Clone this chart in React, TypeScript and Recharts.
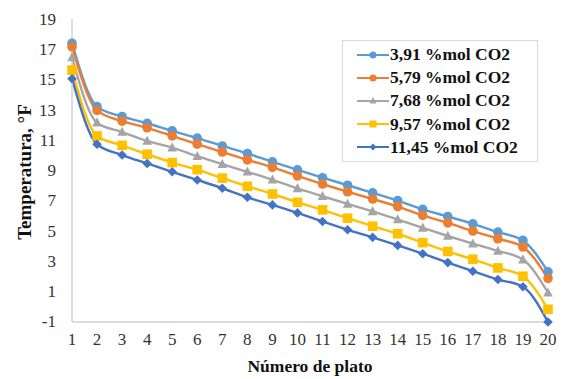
import { LineChart, Line, XAxis, YAxis } from 'recharts';

const platos = [1, 2, 3, 4, 5, 6, 7, 8, 9, 10, 11, 12, 13, 14, 15, 16, 17, 18, 19, 20];

const co2_391 = [17.4, 13.2, 12.55, 12.1, 11.6, 11.12, 10.6, 10.1, 9.55, 9.02, 8.5, 8.0, 7.5, 6.98, 6.4, 5.93, 5.45, 4.9, 4.35, 2.27];
const co2_579 = [17.15, 12.95, 12.24, 11.8, 11.26, 10.72, 10.2, 9.68, 9.18, 8.62, 8.08, 7.57, 7.09, 6.59, 6.0, 5.51, 4.97, 4.46, 3.91, 1.83];
const co2_768 = [16.45, 12.14, 11.52, 10.93, 10.49, 9.92, 9.39, 8.89, 8.36, 7.79, 7.27, 6.76, 6.27, 5.73, 5.18, 4.64, 4.13, 3.65, 3.08, 0.89];
const co2_957 = [15.62, 11.26, 10.64, 10.05, 9.5, 9.03, 8.47, 7.93, 7.42, 6.87, 6.37, 5.82, 5.29, 4.79, 4.2, 3.62, 3.1, 2.53, 1.98, -0.21];
const co2_1145 = [15.05, 10.71, 10.0, 9.44, 8.89, 8.35, 7.8, 7.2, 6.7, 6.17, 5.6, 5.05, 4.55, 4.02, 3.47, 2.88, 2.31, 1.76, 1.28, -1.05];

const yTicks = [-1, 1, 3, 5, 7, 9, 11, 13, 15, 17, 19];

const series = [
  { key: 's391', name: '3,91 %mol CO2', values: co2_391, color: '#5B9BD5', shape: 'circle' },
  { key: 's579', name: '5,79 %mol CO2', values: co2_579, color: '#ED7D31', shape: 'circle' },
  { key: 's768', name: '7,68 %mol CO2', values: co2_768, color: '#A5A5A5', shape: 'triangle' },
  { key: 's957', name: '9,57 %mol CO2', values: co2_957, color: '#FFC000', shape: 'square' },
  { key: 's1145', name: '11,45 %mol CO2', values: co2_1145, color: '#4472C4', shape: 'diamond' },
];

const chartData = platos.map((p, i) => {
  const row: Record<string, number> = { plato: p };
  series.forEach((s) => {
    row[s.key] = s.values[i];
  });
  return row;
});

const font = 'Liberation Serif';

const Marker = ({ cx, cy, color, shape, r = 4 }: any) => {
  if (cx == null || cy == null) return null;
  if (shape === 'triangle') {
    return <polygon points={`${cx},${cy - r - 0.5} ${cx + r},${cy + r - 1} ${cx - r},${cy + r - 1}`} fill={color} />;
  }
  if (shape === 'square') {
    return <rect x={cx - r} y={cy - r} width={r * 2} height={r * 2} fill={color} />;
  }
  if (shape === 'diamond') {
    return <polygon points={`${cx},${cy - r} ${cx + r},${cy} ${cx},${cy + r} ${cx - r},${cy}`} fill={color} />;
  }
  return <circle cx={cx} cy={cy} r={r} fill={color} />;
};

// leyenda con recuadro, como en Excel
const LegendBox = () => (
  <div
    style={{
      position: 'absolute',
      left: 342,
      top: 40,
      border: '1px solid #d9d9d9',
      background: '#fff',
      padding: '2px 6px 2px 14px',
      width: 196,
      boxSizing: 'border-box',
    }}
  >
    {series.map((s) => (
      <div key={s.key} style={{ display: 'flex', alignItems: 'center', height: 23.2 }}>
        <svg width={32} height={12} style={{ marginRight: 1 }}>
          <line x1={0} y1={6} x2={32} y2={6} stroke={s.color} strokeWidth={2} />
          <Marker cx={16} cy={6} color={s.color} shape={s.shape} r={3.5} />
        </svg>
        <span style={{ fontFamily: font, fontWeight: 'bold', fontSize: 17.5, color: '#111', whiteSpace: 'nowrap' }}>
          {s.name}
        </span>
      </div>
    ))}
  </div>
);

const YLabel = () => (
  <text
    x={27}
    y={172}
    transform="rotate(-90 27 172)"
    textAnchor="middle"
    dominantBaseline="middle"
    fontFamily={font}
    fontWeight="bold"
    fontSize={19}
    fill="#111"
  >
    Temperatura, °F
  </text>
);

export default function App() {
  return (
    <div style={{ position: 'absolute', left: 0, top: 0, width: 565, height: 379, background: '#fff' }}>
      <LineChart width={565} height={379} data={chartData} margin={{ top: 19, right: 17, left: 0, bottom: 56 }}>
        <XAxis
          dataKey="plato"
          type="number"
          domain={[1, 20]}
          ticks={platos}
          interval={0}
          tickLine={false}
          tickSize={0}
          tickMargin={11}
          height={1}
          axisLine={{ stroke: '#d0d0d0', strokeWidth: 1.5 }}
          tick={{ fontFamily: font, fontSize: 17, fill: '#333' }}
        />
        <YAxis
          type="number"
          domain={[-1, 19]}
          ticks={yTicks}
          interval={0}
          width={72}
          tickLine={false}
          tickSize={0}
          tickMargin={16}
          axisLine={{ stroke: '#d0d0d0', strokeWidth: 1.5 }}
          tick={{ fontFamily: font, fontSize: 17, fill: '#333' }}
        />
        <YLabel />
        <text
          x={310}
          y={368}
          textAnchor="middle"
          dominantBaseline="middle"
          fontFamily={font}
          fontWeight="bold"
          fontSize={17.5}
          fill="#111"
        >
          Número de plato
        </text>
        {series.map((s) => (
          <Line
            key={s.key}
            type="monotone"
            dataKey={s.key}
            name={s.name}
            stroke={s.color}
            strokeWidth={2.4}
            dot={(props: any) => <Marker key={`${s.key}-${props.index}`} cx={props.cx} cy={props.cy} color={s.color} shape={s.shape} r={4.8} />}
            isAnimationActive={false}
          />
        ))}
      </LineChart>
      <LegendBox />
    </div>
  );
}
